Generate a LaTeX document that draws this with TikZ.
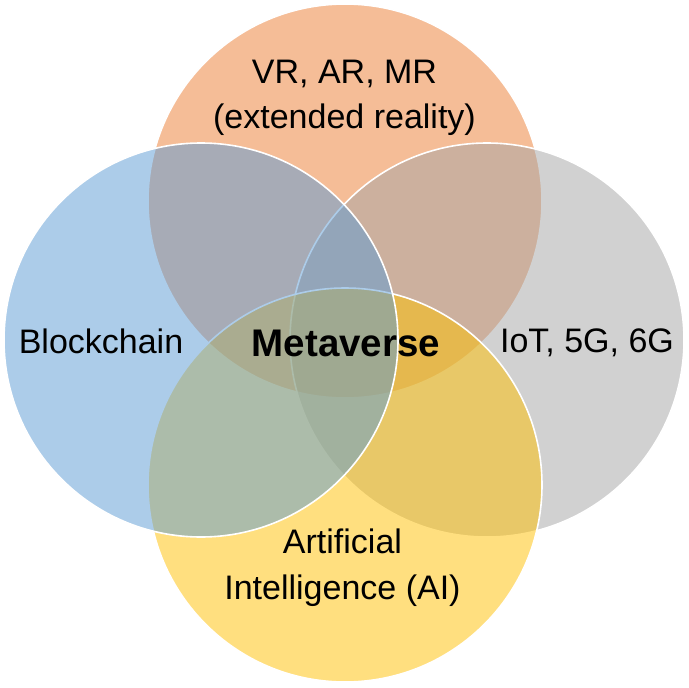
\documentclass[tikz,border=0pt]{standalone}
\usepackage{fontspec}
\setmainfont{Liberation Sans}
\definecolor{cOrange}{HTML}{ED7D31}
\definecolor{cGray}{HTML}{A5A5A5}
\definecolor{cYellow}{HTML}{FFC000}
\definecolor{cBlue}{HTML}{5B9BD5}
\begin{document}
\begin{tikzpicture}[x=1pt,y=-1pt,
  venn/.style={draw=white,line width=1.6pt,fill opacity=0.5,draw opacity=1},
  lbl/.style={anchor=base,inner sep=0pt,font=\fontsize{34}{40}\selectfont},
  lblb/.style={anchor=base,inner sep=0pt,font=\fontsize{38.5}{44}\selectfont\bfseries}]
\useasboundingbox (0,0) rectangle (688,688);
\fill[white] (0,0) rectangle (688,688);
\path[venn,fill=cOrange] (345,201) circle[radius=197];
\path[venn,fill=cGray] (487,340) circle[radius=197];
\path[venn,fill=cYellow] (345,485) circle[radius=197];
\path[venn,fill=cBlue] (201,340) circle[radius=197];
\node[lbl] (xr1) at (344.5,83) {VR, AR, MR};
\node[lbl] (xr2) at (344.5,128) {(extended reality)};
\node[lbl] (bc) at (101,353) {Blockchain};
\node[lblb] (mv) at (346,356) {Metaverse};
\node[lbl] (iot) at (587,352) {IoT, 5G, 6G};
\node[lbl] (ai1) at (342.5,553) {Artificial};
\node[lbl] (ai2) at (342.5,599) {Intelligence (AI)};
\end{tikzpicture}
\end{document}
